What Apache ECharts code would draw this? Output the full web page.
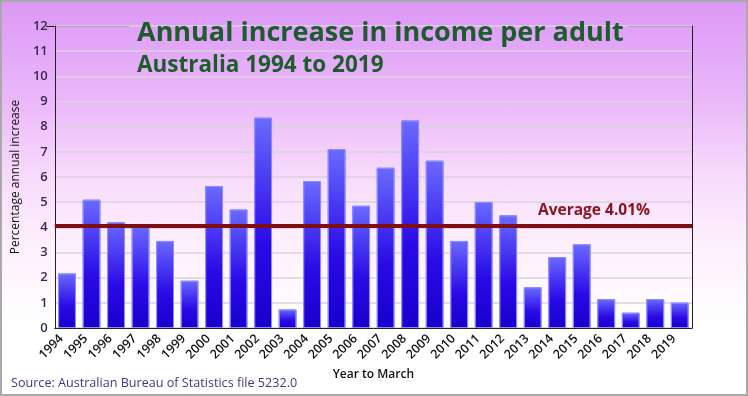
<!DOCTYPE html>
<html>
<head>
<meta charset="utf-8">
<script src="https://cdn.jsdelivr.net/npm/echarts@6/dist/echarts.min.js"></script>
<style>
  html, body { margin: 0; padding: 0; }
  .chart-wrapper {
    width: 748px;
    height: 396px;
    box-sizing: border-box;
    border: 2px solid #a9a9a9;
    background: linear-gradient(to bottom, #dc98f6 0%, #eab8f9 25%, #f8dcfc 45%, #fdeefd 60%, #ffffff 82%);
  }
  .chart { width: 744px; height: 392px; }
</style>
</head>
<body>
<div class="chart-wrapper">
  <div id="chart" class="chart"></div>
</div>
<script>
const years = ['1994', '1995', '1996', '1997', '1998', '1999', '2000', '2001', '2002', '2003',
  '2004', '2005', '2006', '2007', '2008', '2009', '2010', '2011', '2012', '2013',
  '2014', '2015', '2016', '2017', '2018', '2019']
const increase = [2.17, 5.1, 4.21, 4.05, 3.46, 1.88, 5.64, 4.71, 8.36, 0.74,
  5.84, 7.11, 4.86, 6.37, 8.25, 6.65, 3.46, 5.01, 4.48, 1.62,
  2.82, 3.33, 1.15, 0.61, 1.15, 1.01]
const average = [4.08]
const averageLabel = 'Average 4.01%'

const chart = echarts.init(document.getElementById('chart'))
const font = '"Open Sans", "Noto Sans", sans-serif'

const option = {
  backgroundColor: 'transparent',
  textStyle: { fontFamily: font },
  title: [
    {
      text: 'Annual increase in income per adult',
      left: 130,
      top: 13,
      textStyle: { color: '#1d5c2c', fontSize: 27, fontWeight: 'bold', fontFamily: font }
    },
    {
      text: 'Australia 1994 to 2019',
      left: 130,
      top: 47,
      textStyle: { color: '#1d5c2c', fontSize: 22.5, fontWeight: 'bold', fontFamily: font }
    },
    {
      text: 'Source: Australian Bureau of Statistics file 5232.0',
      left: 4,
      top: 370,
      textStyle: { color: '#3b3a8c', fontSize: 12.6, fontWeight: 'normal', fontFamily: font }
    }
  ],
  grid: {
    left: 44,
    right: 54,
    top: 24,
    bottom: 66
  },
  xAxis: {
    type: 'category',
    data: years,
    name: 'Year to March',
    nameLocation: 'middle',
    nameGap: 37,
    nameTextStyle: { color: '#111', fontSize: 12, fontWeight: 600, fontFamily: font },
    axisLine: { lineStyle: { color: '#222', width: 1 } },
    axisTick: { show: false },
    axisLabel: {
      color: '#111',
      fontSize: 12.5,
      fontWeight: 600,
      rotate: 45,
      interval: 0,
      margin: 3,
      padding: [0, 8, 0, 0],
      fontFamily: font
    }
  },
  yAxis: [
    {
      type: 'value',
      min: 0,
      max: 12,
      interval: 1,
      name: 'Percentage annual increase',
      nameLocation: 'middle',
      nameGap: 31,
      nameTextStyle: { color: '#111', fontSize: 12, fontFamily: font },
      axisLine: { show: true, lineStyle: { color: '#222', width: 1 } },
      axisTick: { show: false },
      axisLabel: { color: '#3c2850', fontSize: 13, fontWeight: 600, margin: 7, fontFamily: font },
      splitLine: { lineStyle: { color: '#ddd2de', width: 1.5 } }
    },
    {
      type: 'value',
      min: 0,
      max: 12,
      interval: 1,
      position: 'right',
      axisLine: { show: true, lineStyle: { color: '#222', width: 1 } },
      axisTick: { show: false },
      axisLabel: { show: false },
      splitLine: { show: false }
    }
  ],
  graphic: [
    {
      type: 'line',
      shape: { x1: 44, y1: 24.5, x2: 127, y2: 24.5 },
      style: { stroke: '#222', lineWidth: 1 }
    },
    {
      type: 'line',
      shape: { x1: 626, y1: 24.5, x2: 690, y2: 24.5 },
      style: { stroke: '#222', lineWidth: 1 }
    }
  ],
  series: [
    {
      name: 'Annual increase',
      type: 'bar',
      data: increase,
      barWidth: '73%',
      itemStyle: {
        borderColor: '#8c8cff',
        borderWidth: 1,
        color: new echarts.graphic.LinearGradient(0, 0, 0, 1, [
          { offset: 0, color: '#6a6aff' },
          { offset: 0.6, color: '#2a0ae6' },
          { offset: 1, color: '#1800cc' }
        ])
      },
      markLine: {
        silent: true,
        symbol: 'none',
        lineStyle: { color: '#7e0e12', width: 4, type: 'solid' },
        label: {
          show: true,
          position: 'insideEndTop',
          formatter: averageLabel,
          color: '#8a1420',
          fontSize: 15.5,
          fontWeight: 'bold',
          fontFamily: font,
          padding: [0, 37, 2, 0]
        },
        data: average.map(v => ({ yAxis: v }))
      }
    }
  ]
}

chart.setOption(option)
</script>
</body>
</html>
